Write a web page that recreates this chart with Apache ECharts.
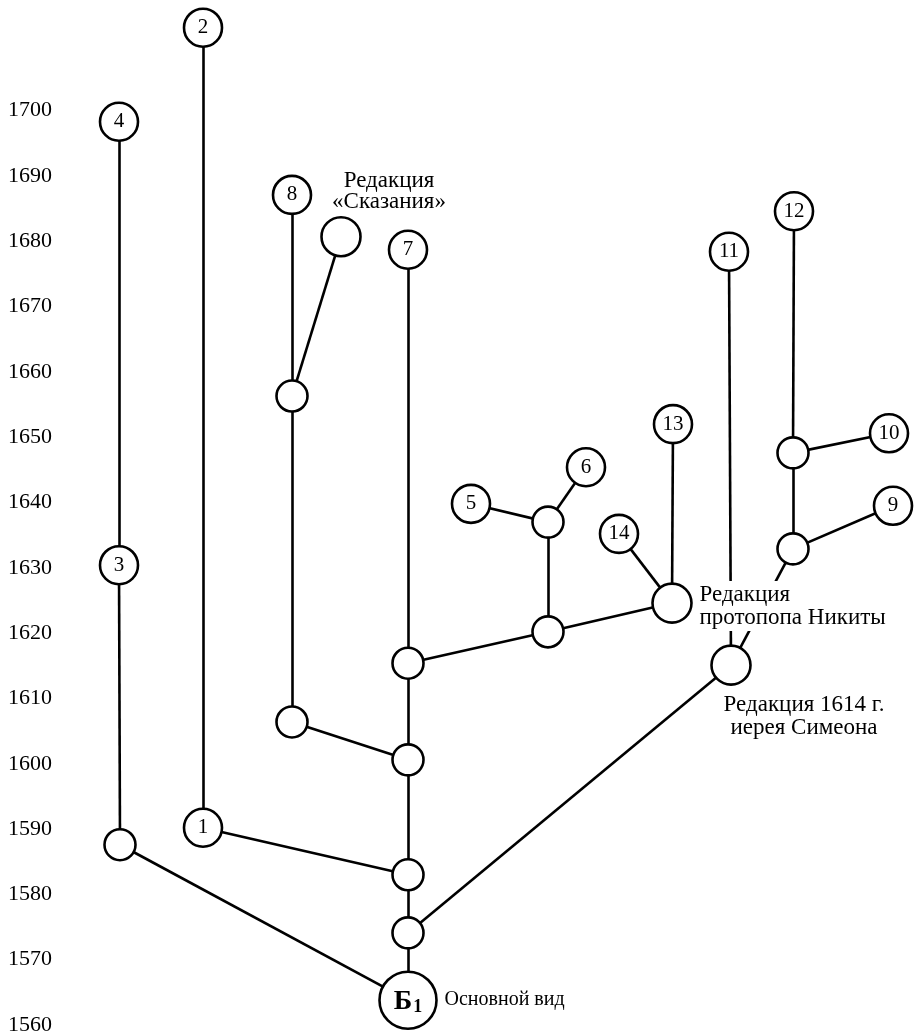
<!DOCTYPE html>
<html><head><meta charset="utf-8">
<script src="https://cdn.jsdelivr.net/npm/echarts@6/dist/echarts.min.js"></script>
<style>html,body{margin:0;padding:0;background:#fff}#c{width:914px;height:1036px}</style>
</head><body><div id="c"></div>
<script>
// Node identifiers, horizontal layout position (chart units) and year
const nodeIds   = ['B1','a','b','c','d','n7','n1','n2','n3','n4','L','e','f','n8','skaz','g','h','n5','n6','nik','n14','n13','n11','sim','i','j','n12','n10','n9'];
const nodeX     = [408, 408, 408, 408, 408, 408, 203, 203, 119, 119, 120, 292, 292, 292, 341, 548, 548, 471, 586, 672, 619, 673, 729, 731, 793, 793, 794, 889, 893];
const nodeYear  = [1563.8,1574.1,1583.0,1600.6,1615.4,1678.7,1590.2,1712.7,1630.4,1698.3,1587.6,1606.4,1656.3,1687.1,1680.7,1620.2,1637.0,1639.8,1645.4,1624.6,1635.2,1652.0,1678.4,1615.1,1632.9,1647.6,1684.6,1650.6,1639.5];
const nodeText  = ['Б1','','','','','7','1','2','3','4','','','','8','','','','5','6','','14','13','11','','','','12','10','9'];
const nodeKind  = ['root','s','s','s','s','n','n','n','n','n','s','s','s','n','r','s','s','n','n','r','n','n','n','r','s','s','n','n','n'];
// Edges
const edgeFrom  = ['B1','B1','a','a','b','n1','L','n3','b','c','e','f','f','c','d','d','g','h','h','g','nik','nik','sim','sim','i','i','j','j'];
const edgeTo    = ['L','a','b','sim','n1','n2','n3','n4','c','e','f','n8','skaz','d','n7','g','h','n5','n6','nik','n14','n13','n11','i','n9','j','n10','n12'];
// Axis ticks
const yearMin = 1560, yearMax = 1716, yearStep = 10, yearLabelMax = 1700;
// Captions
const captionNode = ['skaz','nik','sim','B1'];
const captionText = ['Редакция\n«Сказания»','Редакция\nпротопопа Никиты','Редакция 1614 г.\nиерея Симеона','Основной вид'];

const SERIF = '"Liberation Serif","DejaVu Serif",serif';
const sizeOf = {root:57, s:31, n:38, r:39};

const data = nodeIds.map((id, k) => {
  const item = {
    name: id,
    value: [nodeX[k], nodeYear[k]],
    symbolSize: sizeOf[nodeKind[k]],
    label: {show: false}
  };
  if (nodeKind[k] === 'n') {
    item.label = {show: true, position: 'inside', formatter: nodeText[k], color: '#000',
      fontFamily: SERIF, fontSize: 21};
  }
  if (nodeKind[k] === 'root') {
    item.label = {show: true, position: 'inside', formatter: '{b|Б}{s|1}',
      rich: {
        b: {fontFamily: SERIF, fontSize: 28, fontWeight: 'bold', color: '#000', verticalAlign: 'middle'},
        s: {fontFamily: SERIF, fontSize: 18, fontWeight: 'bold', color: '#000', padding: [10,0,0,1]}
      }, offset: [0, 2]};
  }
  return item;
});

const links = edgeFrom.map((s, k) => ({source: s, target: edgeTo[k]}));

// caption series: invisible points carrying the caption text
const capStyles = {
  skaz: {position: 'inside', offset: [48, -45], align: 'center', fontSize: 23, lineHeight: 21, padding: 0},
  nik:  {position: 'right', distance: 6, align: 'left', offset: [0, 3], fontSize: 23, lineHeight: 23, padding: [2, 2]},
  sim:  {position: 'inside', offset: [73, 51], align: 'center', fontSize: 23, lineHeight: 23, padding: [2, 2]},
  B1:   {position: 'right', distance: 8, align: 'left', offset: [0, 0], fontSize: 20, lineHeight: 20, padding: 0}
};
const capData = captionNode.map((id, k) => {
  const idx = nodeIds.indexOf(id);
  const st = capStyles[id];
  return {
    value: [nodeX[idx], nodeYear[idx]],
    symbolSize: sizeOf[nodeKind[idx]],
    label: Object.assign({show: true, formatter: captionText[k], color: '#000', opacity: 1,
      fontFamily: SERIF,
      backgroundColor: id === 'nik' || id === 'sim' ? '#fff' : 'transparent'}, st)
  };
});

const chart = echarts.init(document.getElementById('c'), null, {renderer: 'canvas'});
chart.setOption({
  backgroundColor: '#fff',
  animation: false,
  grid: {left: 0, right: 0, top: 1025 - (yearMax - yearMin) * 6.531, bottom: 11, containLabel: false},
  xAxis: {type: 'value', min: 0, max: 914, show: false},
  yAxis: {
    type: 'value', min: yearMin, max: yearMax, interval: yearStep,
    axisLine: {show: false}, axisTick: {show: false}, splitLine: {show: false},
    axisLabel: {inside: true, margin: 8, color: '#000', fontFamily: SERIF, fontSize: 22,
      formatter: v => (v <= yearLabelMax ? String(v) : '')}
  },
  series: [
    {
      type: 'graph', coordinateSystem: 'cartesian2d', layout: 'none',
      data: data, links: links, symbol: 'circle',
      itemStyle: {color: '#fff', borderColor: '#000', borderWidth: 2.6, opacity: 1},
      lineStyle: {color: '#000', width: 2.6, opacity: 1, curveness: 0},
      emphasis: {disabled: true}, z: 2
    },
    {
      type: 'scatter', data: capData, symbol: 'circle',
      itemStyle: {color: 'rgba(0,0,0,0)', borderWidth: 0, opacity: 1},
      emphasis: {disabled: true}, z: 5, silent: true
    }
  ]
});
</script>
</body></html>
